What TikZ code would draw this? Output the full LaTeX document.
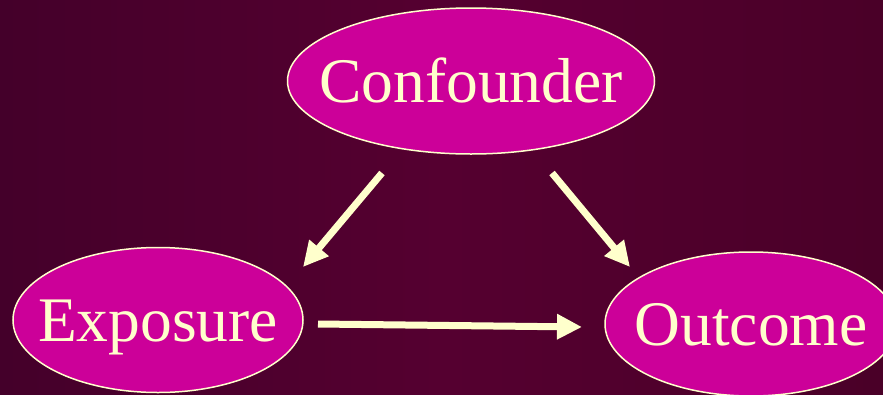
\documentclass[tikz,border=0pt]{standalone}
\usepackage{fontspec}
\setmainfont{Liberation Serif}
\usetikzlibrary{shapes.geometric,arrows.meta}
\definecolor{bgdark}{HTML}{44002A}
\definecolor{bgmid}{HTML}{550030}
\definecolor{bgright}{HTML}{4A0028}
\definecolor{blob}{HTML}{CC0099}
\definecolor{cream}{HTML}{FFFFCC}
\begin{document}
\begin{tikzpicture}[x=1pt,y=1pt,
  oval/.style={ellipse, draw=cream, line width=1.5pt, fill=blob, inner sep=0pt},
  lbl/.style={text=cream, font=\fontsize{63.5}{70}\selectfont,
    text height=43pt, text depth=0pt, inner sep=0pt},
  link/.style={draw=cream, line width=7pt,
    -{Triangle[length=25pt,width=24pt]}}]
  % background
  \shade[left color=bgdark, right color=bgright, middle color=bgmid]
    (0,0) rectangle (883,-394);
  \useasboundingbox (0,0) rectangle (883,-394);
  % variables
  \node[oval, minimum width=367pt, minimum height=146pt,
        label={[lbl]center:Confounder}] (conf) at (471,-81) {};
  \node[oval, minimum width=290pt, minimum height=145pt,
        label={[lbl]center:Exposure}] (expo) at (158,-320) {};
  \node[oval, minimum width=292pt, minimum height=144pt,
        label={[lbl]center:Outcome}] (outc) at (751,-324) {};
  % arrow end points
  \coordinate (c2e) at (382,-173);
  \coordinate (e2c) at (303,-267);
  \coordinate (c2o) at (552,-173);
  \coordinate (o2c) at (630,-267);
  \coordinate (e2o) at (318,-324);
  \coordinate (o2e) at (582,-327);
  % arrows
  \draw[link] (c2e) -- (e2c);
  \draw[link] (c2o) -- (o2c);
  \draw[link] (e2o) -- (o2e);
\end{tikzpicture}
\end{document}
